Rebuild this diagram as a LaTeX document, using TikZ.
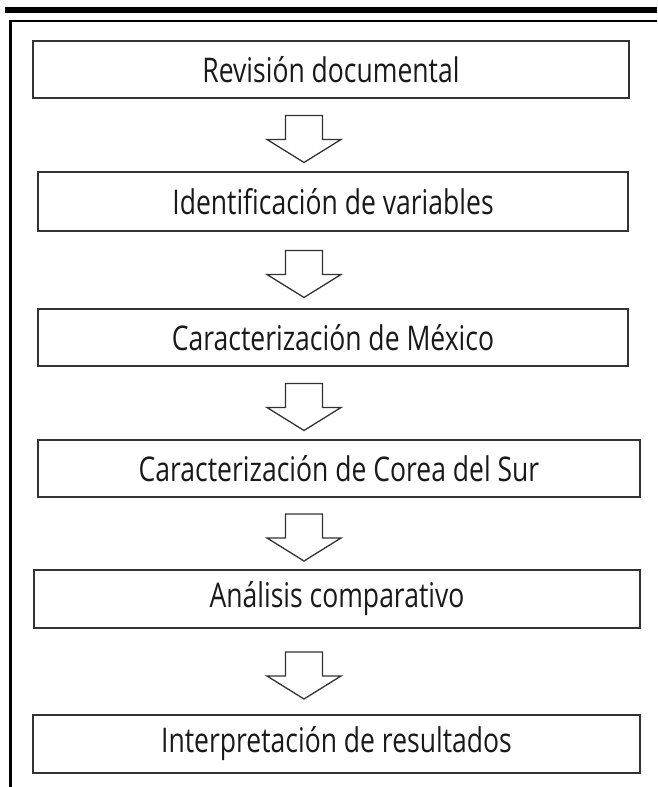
\documentclass[tikz,border=0pt]{standalone}
\usepackage{fontspec}
\newfontfamily\flowfont[FakeStretch=0.78]{Open Sans}
\usetikzlibrary{calc}
\begin{document}
\begin{tikzpicture}
[x=1pt,y=1pt,
  boxdecorate/.style={shape=rectangle,draw=black!80,line width=1.7pt,inner sep=0pt,%
    text=black!90,font=\flowfont\fontsize{34}{40}\selectfont},%
  arrowdecorate/.style={draw=black!80,line width=1.3pt,fill=white,line join=miter}]
\useasboundingbox (0,0) rectangle (657,787);
%% frame
\fill (5,774) rectangle (657,780);
\draw[line width=2.5pt] (10.5,0) -- (10.5,766) -- (657,766);
%% steps
\foreach \nodename/\xa/\xb/\ya/\yb/\steptext in {
  revision/33/629/41/98/{Revisión documental},
  variables/38/628/172/231/{Identificación de variables},
  mexico/38/628/309/366/{Caracterización de México},
  corea/38/640/440/497/{Caracterización de Corea del Sur},
  analisis/34/640/570/628/{Análisis comparativo},
  resultados/33/640/715/773/{Interpretación de resultados}} {
  \node (\nodename) at ({(\xa+\xb)/2},{787-(\ya+\yb)/2}) [boxdecorate,%
    minimum width={(\xb-\xa)*1pt},minimum height={(\yb-\ya)*1pt}] {\steptext};
}
%% block arrows
\coordinate (axis) at (304,0);
\foreach \upper/\lower in {revision/variables, variables/mexico, mexico/corea,
  corea/analisis, analisis/resultados} {
  \coordinate (mid) at ($(\upper.south)!0.5!(\lower.north)$);
  \draw[arrowdecorate] ($(axis |- mid)+(-18.5,19.5)$) -- ++(37,0) -- ++(0,-24)
    -- ++(18.5,0) -- ++(-37,-23) -- ++(-37,23) -- ++(18.5,0) -- cycle;
}
\end{tikzpicture}
\end{document}
